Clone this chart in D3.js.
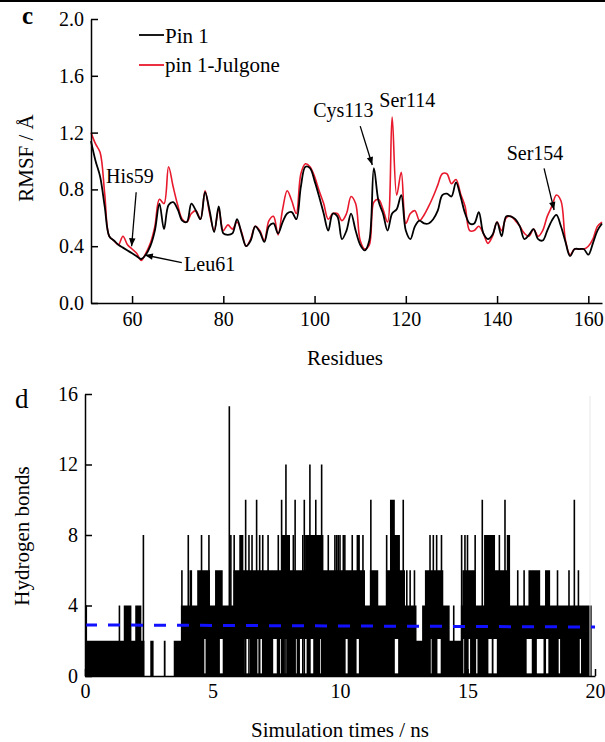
<!DOCTYPE html>
<html lang="en">
<head>
<meta charset="UTF-8">
<title>RMSF and hydrogen bonds</title>
<script src="https://d3js.org/d3.v7.min.js"></script>
<style>
  body { margin: 0; background: #fff; }
  svg { display: block; font-family: "Liberation Serif", "Times New Roman", serif; }
  .axis path, .axis line { stroke: #000; stroke-width: 1.5; }
  .axis text { fill: #000; }
  .note { font-size: 20px; }
</style>
</head>
<body>
<svg width="605" height="742"></svg>
<script>
// ---- panel c data: RMSF per residue (51..163)
const resFirst = 51, resLast = 163;
const residues = d3.range(resFirst, resLast + 1);
const rmsfPin1 = [
  1.14, 1.00, 0.89, 0.68, 0.47, 0.44, 0.41, 0.39, 0.37, 0.35,
  0.33, 0.31, 0.34, 0.40, 0.51, 0.70, 0.52, 0.69, 0.71, 0.66,
  0.58, 0.57, 0.70, 0.65, 0.59, 0.78, 0.65, 0.50, 0.68, 0.49,
  0.48, 0.49, 0.59, 0.49, 0.40, 0.44, 0.54, 0.50, 0.43, 0.54,
  0.56, 0.49, 0.57, 0.63, 0.64, 0.59, 0.82, 0.96, 0.95, 0.86,
  0.75, 0.63, 0.51, 0.63, 0.61, 0.45, 0.51, 0.63, 0.51, 0.41,
  0.37, 0.44, 0.95, 0.72, 0.63, 0.51, 0.63, 0.66, 0.76, 0.51,
  0.45, 0.54, 0.58, 0.56, 0.56, 0.59, 0.65, 0.76, 0.77, 0.75,
  0.85, 0.75, 0.63, 0.56, 0.56, 0.64, 0.49, 0.45, 0.48, 0.57,
  0.47, 0.61, 0.61, 0.59, 0.54, 0.45, 0.48, 0.52, 0.45, 0.44,
  0.51, 0.58, 0.62, 0.54, 0.43, 0.33, 0.38, 0.38, 0.38, 0.34,
  0.42, 0.51, 0.56
];
const rmsfJulgone = [
  1.20, 1.12, 1.06, 0.77, 0.47, 0.44, 0.41, 0.47, 0.41, 0.38,
  0.35, 0.30, 0.35, 0.42, 0.54, 0.73, 0.70, 0.96, 0.82, 0.69,
  0.59, 0.57, 0.63, 0.65, 0.59, 0.79, 0.63, 0.51, 0.66, 0.51,
  0.55, 0.52, 0.57, 0.50, 0.40, 0.45, 0.54, 0.51, 0.44, 0.58,
  0.61, 0.48, 0.66, 0.79, 0.72, 0.63, 0.91, 0.98, 0.96, 0.89,
  0.79, 0.70, 0.59, 0.63, 0.63, 0.58, 0.63, 0.75, 0.70, 0.44,
  0.38, 0.41, 0.71, 0.73, 0.66, 0.57, 1.31, 0.76, 0.92, 0.56,
  0.63, 0.65, 0.58, 0.62, 0.68, 0.75, 0.83, 0.91, 0.91, 0.84,
  0.87, 0.77, 0.68, 0.51, 0.51, 0.54, 0.49, 0.42, 0.47, 0.57,
  0.51, 0.60, 0.61, 0.58, 0.54, 0.49, 0.47, 0.52, 0.47, 0.51,
  0.61, 0.68, 0.76, 0.72, 0.44, 0.34, 0.38, 0.38, 0.38, 0.40,
  0.45, 0.54, 0.57
];
const rmsfTicksX = [60, 80, 100, 120, 140, 160];
const rmsfTicksY = [0, 0.4, 0.8, 1.2, 1.6, 2.0];

// ---- panel d data: hydrogen bonds over 20 ns
// dense band: start time of each step and the level the band reaches
const hbStepT = [0, 1.52, 1.82, 1.97, 2.21, 2.33, 2.56, 2.69, 3.09, 3.16,
  3.48, 3.76, 4.10, 4.20, 4.40, 4.90, 5.10, 5.40, 5.82, 6.05,
  6.21, 7.71, 8.04, 8.63, 9.35, 10.65, 10.78, 10.98, 11.17, 11.50,
  11.80, 11.96, 12.15, 12.35, 12.55, 13.00, 13.22, 13.33, 14.05, 14.30,
  14.74, 14.80, 15.30, 15.65, 16.08, 16.54, 16.67, 17.39, 17.85, 18.04,
  18.24];
const hbStepTop = [2, 4, 2, 4, 2, 0, 2, 0, 2, 0,
  2, 4, 6, 4, 6, 4, 6, 4, 6, 8,
  6, 8, 6, 8, 6, 8, 6, 4, 6, 4,
  6, 10, 8, 6, 4, 2, 4, 6, 4, 2,
  4, 6, 4, 8, 6, 8, 4, 6, 4, 6,
  4];
const hbEnd = 19.87;
// single-frame excursions above the band
const hbSpikeT = [0.05, 1.35, 2.29, 3.80, 4.05, 4.57, 4.86, 5.66, 5.72, 5.85,
  6.30, 6.43, 6.55, 6.73, 6.85, 6.97, 7.18, 7.58, 7.71, 7.88,
  8.17, 8.24, 8.54, 8.60, 8.82, 9.05, 9.28, 9.54, 9.80, 9.87,
  9.93, 10.00, 10.13, 10.19, 10.48, 10.90, 11.21, 11.83, 12.48, 12.62,
  12.75, 12.92, 13.53, 13.66, 13.79, 13.98, 14.46, 14.77, 14.90, 15.00,
  15.30, 15.58, 16.25, 16.47, 16.97, 17.22, 18.53, 18.98, 19.19, 19.35];
const hbSpikeV = [4, 4, 8, 6, 8, 8, 8, 15.3, 8, 8,
  10, 8, 8, 10, 8, 8, 8, 8, 10, 12,
  8, 10, 8, 10, 12, 10, 12, 8, 8, 8,
  8, 8, 8, 8, 8, 8, 10, 8, 10, 6,
  6, 6, 8, 8, 8, 8, 4, 8, 8, 8,
  8, 10, 8, 10, 6, 6, 6, 6, 10, 6];
// windows where the count never dropped below 2
const hbGapStart = [4.68, 5.29, 6.27, 6.73, 6.86, 7.38, 7.65, 7.84, 8.24, 8.43,
  8.82, 9.22, 10.19, 10.65, 12.15, 13.53, 13.79, 14.84, 15.04, 15.34,
  15.82, 16.02, 17.32, 17.72, 18.08, 18.57, 19.40];
const hbGapEnd = [4.72, 5.40, 6.47, 6.80, 6.95, 7.52, 7.71, 7.91, 8.30, 8.69,
  8.95, 9.28, 10.30, 10.74, 12.28, 13.59, 13.98, 14.88, 15.10, 15.39,
  15.95, 16.15, 17.52, 17.98, 18.17, 18.63, 19.45];
// running average
const hbAvgT = [0, 20];
const hbAvgV = [2.9, 2.78];
const hbTicksX = [0, 5, 10, 15, 20];
const hbTicksY = [0, 4, 8, 12, 16];

const svg = d3.select("svg");
const font = '"Liberation Serif", "Times New Roman", serif';

// thin rule at the very top of the figure
svg.append("rect").attr("x", 0).attr("y", 0).attr("width", 605).attr("height", 2).attr("fill", "#000");

svg.append("defs").append("marker")
  .attr("id", "arrow")
  .attr("viewBox", "0 0 10 10")
  .attr("refX", 10).attr("refY", 5)
  .attr("markerWidth", 9).attr("markerHeight", 8)
  .attr("markerUnits", "userSpaceOnUse")
  .attr("orient", "auto")
  .append("path").attr("d", "M0,1 L10,5 L0,9 Z").attr("fill", "#000");

// ================= panel c =================
const xC = d3.scaleLinear().domain([resFirst, resLast]).range([91, 602]);
const yC = d3.scaleLinear().domain([0, 2]).range([303, 19]);

const lineC = d3.line()
  .x(function(d) { return xC(d[0]); })
  .y(function(d) { return yC(d[1]); })
  .curve(d3.curveCatmullRom.alpha(0.5));

svg.append("path")
  .datum(residues.map(function(r, i) { return [r, rmsfJulgone[i]]; }))
  .attr("d", lineC).attr("fill", "none")
  .attr("stroke", "#e8192c").attr("stroke-width", 1.6);

svg.append("path")
  .datum(residues.map(function(r, i) { return [r, rmsfPin1[i]]; }))
  .attr("d", lineC).attr("fill", "none")
  .attr("stroke", "#000").attr("stroke-width", 1.8);

svg.append("g").attr("class", "axis")
  .attr("transform", "translate(0,303)")
  .call(d3.axisBottom(xC).tickValues(rmsfTicksX).tickSize(-7).tickSizeOuter(0).tickPadding(9))
  .attr("font-size", 20).attr("font-family", font);

svg.append("g").attr("class", "axis")
  .attr("transform", "translate(91,0)")
  .call(d3.axisLeft(yC).tickValues(rmsfTicksY).tickFormat(d3.format(".1f")).tickSize(-7).tickSizeOuter(0).tickPadding(7))
  .attr("font-size", 20).attr("font-family", font);

svg.append("text").attr("x", 22).attr("y", 24)
  .attr("font-size", 25).attr("font-weight", "bold").text("c");

svg.append("text")
  .attr("transform", "translate(33,158) rotate(-90)")
  .attr("text-anchor", "middle").attr("font-size", 21)
  .text("RMSF / Å");

svg.append("text").attr("x", 345).attr("y", 365)
  .attr("text-anchor", "middle").attr("font-size", 21)
  .text("Residues");

// legend
const legend = [["Pin 1", "#000", 35, 43], ["pin 1-Julgone", "#e8192c", 65, 72]];
legend.forEach(function(l) {
  svg.append("line").attr("x1", 139).attr("x2", 164).attr("y1", l[2]).attr("y2", l[2])
    .attr("stroke", l[1]).attr("stroke-width", 1.8);
  svg.append("text").attr("x", 165).attr("y", l[3]).attr("font-size", 21).text(l[0]);
});

// residue call-outs (label anchor and arrow given in data units)
const notes = [
  { text: "His59",  at: [54.3, 0.845], from: [60.9, 0.78], to: [59.9, 0.40] },
  { text: "Leu61",  at: [71.4, 0.228], from: [70.9, 0.284], to: [62.8, 0.338] },
  { text: "Cys113", at: [99.7, 1.312], from: [110.0, 1.246], to: [112.65, 0.972] },
  { text: "Ser114", at: [114.2, 1.378] },
  { text: "Ser154", at: [142.1, 1.007], from: [150.3, 0.948], to: [152.5, 0.655] }
];
notes.forEach(function(n) {
  svg.append("text").attr("class", "note")
    .attr("x", xC(n.at[0])).attr("y", yC(n.at[1])).text(n.text);
  if (n.from) {
    svg.append("line")
      .attr("x1", xC(n.from[0])).attr("y1", yC(n.from[1]))
      .attr("x2", xC(n.to[0])).attr("y2", yC(n.to[1]))
      .attr("stroke", "#000").attr("stroke-width", 1.3)
      .attr("marker-end", "url(#arrow)");
  }
});

// ================= panel d =================
const xD = d3.scaleLinear().domain([0, 20]).range([85, 595]);
const yD = d3.scaleLinear().domain([0, 16]).range([676, 394]);

const steps = hbStepT.map(function(t, i) { return [t, hbStepTop[i]]; });
steps.push([hbEnd, hbStepTop[hbStepTop.length - 1]]);

svg.append("path")
  .datum(steps)
  .attr("d", d3.area()
    .x(function(d) { return xD(d[0]); })
    .y0(yD(0))
    .y1(function(d) { return yD(d[1]); })
    .curve(d3.curveStepAfter))
  .attr("fill", "#000");

// white stripes where the count stayed at 2 or more
svg.append("g").selectAll("rect")
  .data(hbGapStart.map(function(s, i) { return [s, hbGapEnd[i]]; }))
  .enter().append("rect")
  .attr("x", function(d) { return xD(d[0]); })
  .attr("width", function(d) { return Math.max(1.2, xD(d[1]) - xD(d[0])); })
  .attr("y", yD(2.1))
  .attr("height", yD(0.15) - yD(2.1))
  .attr("fill", "#fff");

svg.append("g").selectAll("line")
  .data(hbSpikeT.map(function(t, i) { return [t, hbSpikeV[i]]; }))
  .enter().append("line")
  .attr("x1", function(d) { return xD(d[0]); })
  .attr("x2", function(d) { return xD(d[0]); })
  .attr("y1", yD(0))
  .attr("y2", function(d) { return yD(d[1]); })
  .attr("stroke", "#000").attr("stroke-width", 1.6);

// faint right frame
svg.append("line").attr("x1", 590).attr("x2", 590).attr("y1", 396).attr("y2", 676)
  .attr("stroke", "#e6e6e6").attr("stroke-width", 1);

svg.append("path")
  .datum(hbAvgT.map(function(t, i) { return [t, hbAvgV[i]]; }))
  .attr("d", d3.line().x(function(d) { return xD(d[0]); }).y(function(d) { return yD(d[1]); }))
  .attr("fill", "none").attr("stroke", "#1111ff").attr("stroke-width", 3)
  .attr("stroke-dasharray", "12,11");

svg.append("g").attr("class", "axis")
  .attr("transform", "translate(0,676)")
  .call(d3.axisBottom(xD).tickValues(hbTicksX).tickSize(-7).tickSizeOuter(0).tickPadding(8))
  .attr("font-size", 20).attr("font-family", font);

svg.append("g").attr("class", "axis")
  .attr("transform", "translate(85,0)")
  .call(d3.axisLeft(yD).tickValues(hbTicksY).tickSize(-7).tickSizeOuter(0).tickPadding(7))
  .attr("font-size", 20).attr("font-family", font);

svg.append("text").attr("x", 15).attr("y", 408)
  .attr("font-size", 27).text("d");

svg.append("text")
  .attr("transform", "translate(29,536) rotate(-90)")
  .attr("text-anchor", "middle").attr("font-size", 21)
  .text("Hydrogen bonds");

svg.append("text").attr("x", 340).attr("y", 737)
  .attr("text-anchor", "middle").attr("font-size", 21)
  .text("Simulation times / ns");
</script>
</body>
</html>
